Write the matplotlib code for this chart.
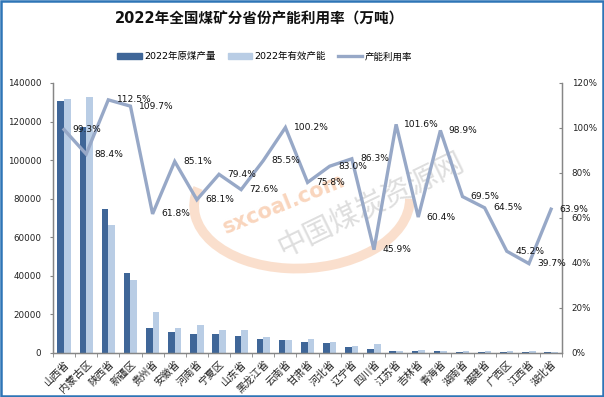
import numpy as np
import matplotlib
matplotlib.use("Agg")
import matplotlib.pyplot as plt
from matplotlib.patches import Rectangle, Patch, Arc
from matplotlib.lines import Line2D
from matplotlib.ticker import FuncFormatter, MultipleLocator

plt.rcParams['font.family'] = ['DejaVu Sans', 'Noto Sans CJK SC']

# Data (万吨)
provinces = ['山西省', '内蒙古区', '陕西省', '新疆区', '贵州省', '安徽省', '河南省', '宁夏区',
             '山东省', '黑龙江省', '云南省', '甘肃省', '河北省', '辽宁省', '四川省', '江苏省',
             '吉林省', '青海省', '湖南省', '福建省', '广西区', '江西省', '湖北省']
output_2022 = [130700, 117400, 74600, 41300, 13100, 11100, 9900, 9600, 8800, 7000, 6900, 5500,
               4900, 3200, 2200, 1000, 1000, 1100, 650, 500, 420, 320, 300]
capacity_2022 = [131600, 132800, 66300, 37600, 21200, 13000, 14500, 12100, 12100, 8200, 6900, 7300,
                 5900, 3700, 4800, 1000, 1650, 1100, 930, 780, 930, 800, 470]
utilization = [99.3, 88.4, 112.5, 109.7, 61.8, 85.1, 68.1, 79.4, 72.6, 85.5, 100.2, 75.8,
               83.0, 86.3, 45.9, 101.6, 60.4, 98.9, 69.5, 64.5, 45.2, 39.7, 63.9]

dark_blue = '#3f6698'
light_blue = '#b9cde5'
line_color = '#97a8c7'
axis_gray = '#868686'

fig = plt.figure(figsize=(6.04, 3.97), dpi=100)
ax = fig.add_axes([0.0877, 0.111, 0.843, 0.680])
ax2 = ax.twinx()
ax.patch.set_visible(False)
ax2.patch.set_visible(False)

# faint site watermark behind the plot
fig.patches.append(Arc((0.50, 0.49), 0.36, 0.33, angle=18, theta1=150, theta2=345,
                       transform=fig.transFigure, color='#f4b183', alpha=0.4, lw=7, zorder=-2))
fig.text(0.47, 0.485, 'sxcoal.com', rotation=22, ha='center', va='center', fontsize=15,
         fontweight='bold', color='#f8cbad', alpha=0.8, zorder=-1)
fig.text(0.615, 0.48, '中国煤炭资源网', rotation=26, ha='center', va='center', fontsize=21,
         color='#c8c8c8', alpha=0.6, zorder=-1, family='Noto Sans CJK SC')

x = np.arange(len(provinces))
w = 0.3
ax.bar(x - w / 2, output_2022, w, color=dark_blue, zorder=2)
ax.bar(x + w / 2, capacity_2022, w, color=light_blue, zorder=2)

util = np.array(utilization) / 100
ax2.plot(x, util, color=line_color, lw=2.4, solid_joinstyle='miter', zorder=3)
for xi, yi, v in zip(x, util, utilization):
    ax2.annotate(f'{v:.1f}%', (xi, yi), xytext=(6, 0), textcoords='offset points',
                 ha='left', va='center', fontsize=6.6, color='#111111')

ax.set_xlim(-0.5, len(provinces) - 0.5)
ax.set_ylim(0, 140000)
ax.yaxis.set_major_locator(MultipleLocator(20000))
ax2.set_ylim(0, 1.2)
ax2.yaxis.set_major_locator(MultipleLocator(0.2))
ax2.yaxis.set_major_formatter(FuncFormatter(lambda v, p: f'{v * 100:.0f}%'))

ax.set_xticks(x)
ax.set_xticklabels(provinces, rotation=45, ha='right', va='top', rotation_mode='anchor',
                   fontsize=7.4, color='#222222')
ax.tick_params(axis='x', length=0, pad=4)
ax.set_xticks(np.arange(-0.5, len(provinces), 1), minor=True)
ax.tick_params(axis='x', which='minor', length=3, color=axis_gray)
ax.tick_params(axis='y', labelsize=6.3, length=2.5, color=axis_gray, pad=6, labelcolor='#222222')
ax2.tick_params(axis='y', labelsize=6.3, length=2.5, color=axis_gray, direction='in', pad=7,
                labelcolor='#222222')

for a in (ax, ax2):
    a.spines['top'].set_visible(False)
    for s in ('left', 'right', 'bottom'):
        a.spines[s].set_color(axis_gray)
        a.spines[s].set_linewidth(0.9)

# title and legend
fig.text(0.43, 0.952, '2022年全国煤矿分省份产能利用率（万吨）', ha='center', va='center',
         fontsize=10.5, fontweight='bold', color='#111111')
handles = [Patch(color=dark_blue), Patch(color=light_blue),
           Line2D([0], [0], color=line_color, lw=2.4)]
labels = ['2022年原煤产量', '2022年有效产能', '产能利用率']
fig.legend(handles, labels, loc='center', bbox_to_anchor=(0.438, 0.857), ncol=3, frameon=False,
           fontsize=6.8, handlelength=2.6, handleheight=0.5, columnspacing=1.3, handletextpad=0.2)

# chart border
fig.patches.append(Rectangle((0.002, 0.003), 0.996, 0.994, transform=fig.transFigure,
                             fill=False, edgecolor='#2e75b6', lw=1.8))

fig.savefig('out.png', dpi=100)
